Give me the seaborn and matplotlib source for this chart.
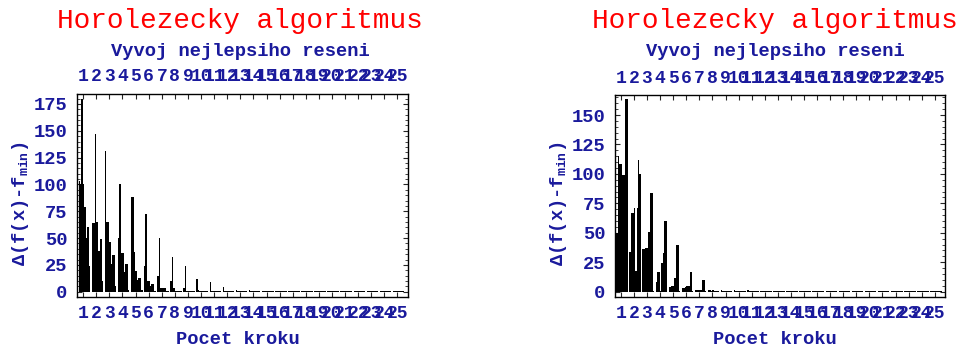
import numpy as np
import pandas as pd
import matplotlib
matplotlib.use("Agg")
import matplotlib.pyplot as plt
import seaborn as sns
from matplotlib.ticker import MultipleLocator

# ---------------- data ----------------
title_text = "Horolezecky algoritmus"
subtitle_text = "Vyvoj nejlepsiho reseni"
x_label = "Pocet kroku"
y_label = "Δ(f(x)-$\\mathrm{f}_{\\mathrm{min}}$)"

steps = list(range(1, 26))
step_labels = [str(s) for s in steps]
sub_per_step = 8

# best-solution differences, 8 evaluations per step
left_delta = [
    103, 100, 180, 100, 79, 50, 60, 24,      # 1
    64, 64, 147, 65, 38, 38, 49, 10,         # 2
    131, 65, 65, 46, 26, 34, 34, 5,          # 3
    50, 100, 36, 36, 18, 26, 26, 2,          # 4
    88, 88, 37, 19, 11, 13, 13, 2,           # 5
    24, 72, 10, 10, 5, 7, 7, 1,              # 6
    15, 50, 3, 3, 3, 3, 1, 1,                # 7
    10, 32, 3, 1, 1, 1, 1, 1,                # 8
    3, 24, 1, 1, 1, 1, 1, 1,                 # 9
    12, 2, 1, 1, 1, 1, 1, 1,                 # 10
    9, 1, 1, 1, 1, 1, 1, 1,                  # 11
    4, 1, 1, 1, 1, 1, 1, 1,                  # 12
    2, 1, 1, 1, 1, 1, 1, 1,                  # 13
    1.5, 1, 1, 1, 1, 1, 1, 1,                # 14
    1, 1, 1, 1, 1, 1, 1, 1,                  # 15
    1, 1, 1, 1, 1, 1, 1, 1,                  # 16
    1, 1, 1, 1, 1, 1, 1, 1,                  # 17
    1, 1, 1, 1, 1, 1, 1, 1,                  # 18
    1, 1, 1, 1, 1, 1, 1, 1,                  # 19
    1, 1, 1, 1, 1, 1, 1, 1,                  # 20
    1, 1, 1, 1, 1, 1, 1, 1,                  # 21
    1, 1, 1, 1, 1, 1, 1, 1,                  # 22
    1, 1, 1, 1, 1, 1, 1, 1,                  # 23
    1, 1, 1, 1, 1, 1, 1, 1,                  # 24
    1, 1, 1, 1, 1, 1, 1, 1,                  # 25
]

right_delta = [
    50, 115, 108, 108, 99, 99, 164, 164,     # 1
    34, 67, 67, 71, 18, 71, 112, 100,        # 2
    36, 36, 37, 37, 51, 84, 84, 1,           # 3
    8, 17, 17, 1, 24, 33, 60, 60,            # 4
    4, 4, 5, 5, 12, 40, 40, 1,               # 5
    3, 3, 4, 5, 5, 5, 17, 1,                 # 6
    1.5, 1.5, 1.5, 1.5, 1.5, 10, 10, 1,      # 7
    1.5, 1.5, 1, 1.5, 1, 1, 1, 1,            # 8
    1.5, 1, 1, 1, 1, 1, 1, 1,                # 9
    1.5, 1, 1, 1, 1, 1, 1, 1,                # 10
    1.5, 1, 1, 1, 1, 1, 1, 1,                # 11
    1, 1, 1, 1, 1, 1, 1, 1,                  # 12
    1, 1, 1, 1, 1, 1, 1, 1,                  # 13
    1, 1, 1, 1, 1, 1, 1, 1,                  # 14
    1, 1, 1, 1, 1, 1, 1, 1,                  # 15
    1, 1, 1, 1, 1, 1, 1, 1,                  # 16
    1, 1, 1, 1, 1, 1, 1, 1,                  # 17
    1, 1, 1, 1, 1, 1, 1, 1,                  # 18
    1, 1, 1, 1, 1, 1, 1, 1,                  # 19
    1, 1, 1, 1, 1, 1, 1, 1,                  # 20
    1, 1, 1, 1, 1, 1, 1, 1,                  # 21
    1, 1, 1, 1, 1, 1, 1, 1,                  # 22
    1, 1, 1, 1, 1, 1, 1, 1,                  # 23
    1, 1, 1, 1, 1, 1, 1, 1,                  # 24
    1, 1, 1, 1, 1, 1, 1, 1,                  # 25
]

# ---------------- style ----------------
sns.set_style("ticks")
MONO = ["Liberation Mono", "DejaVu Sans Mono"]
plt.rcParams["font.family"] = MONO
plt.rcParams["mathtext.fontset"] = "custom"
plt.rcParams["mathtext.rm"] = "Liberation Mono:bold"
plt.rcParams["mathtext.it"] = "Liberation Mono:bold"
plt.rcParams["mathtext.bf"] = "Liberation Mono:bold"

RED = "#ff0000"
BLUE = "#1a1a9c"

W, H = 963, 347
fig = plt.figure(figsize=(W / 100, H / 100), dpi=100)


def px_axes(x0, x1, y_top, y_bot):
    return fig.add_axes([x0 / W, 1 - y_bot / H, (x1 - x0) / W, (y_bot - y_top) / H])


def draw_panel(ax, values, ylim, ytop_tick, title_cx):
    offsets = [-0.35 + (j + 0.5) * 0.11 for j in range(sub_per_step)]
    pos = [round(s + o, 4) for s in steps for o in offsets]
    df = pd.DataFrame({"krok": pos, "delta": values})
    sns.barplot(data=df, x="krok", y="delta", native_scale=True, width=1.05,
                color="black", saturation=1, linewidth=0, errorbar=None,
                antialiased=False, ax=ax)
    ax.set_xlim(0.55, 25.78)
    ax.set_ylim(*ylim)
    ax.set_xticks(steps)
    ax.set_xticklabels(step_labels)
    ax.set_yticks(list(range(0, ytop_tick + 1, 25)))
    ax.yaxis.set_minor_locator(MultipleLocator(5))
    ax.tick_params(axis="x", which="both", direction="in", top=True, bottom=True,
                   labeltop=True, labelbottom=True, length=3.5, width=0.8,
                   pad=6, labelsize=13, labelcolor=BLUE)
    ax.tick_params(axis="y", which="major", direction="in", left=True, right=True,
                   length=3.5, width=0.8, pad=7, labelsize=13.5, labelcolor=BLUE)
    ax.tick_params(axis="y", which="minor", direction="in", left=True, right=True,
                   length=2, width=0.6)
    for lab in ax.get_xticklabels() + ax.get_yticklabels():
        lab.set_fontweight("bold")
    for sp in ax.spines.values():
        sp.set_visible(True)
        sp.set_color("black")
        sp.set_linewidth(1.0)
    ax.set_xlabel("")
    ax.set_ylabel(y_label, color=BLUE, fontsize=13.5, fontweight="bold")
    ax.yaxis.set_label_coords(-0.14, 0.46)
    ax.grid(False)

    fig.text(title_cx / W, 1 - 28 / H, title_text, color=RED, fontsize=20,
             ha="center", va="baseline")
    fig.text(title_cx / W, 1 - 56 / H, subtitle_text, color=BLUE, fontsize=13.5,
             fontweight="bold", ha="center", va="baseline")
    ax_cx = (ax.get_position().x0 + ax.get_position().x1) / 2
    fig.text(ax_cx - 5 / W, 1 - 344 / H, x_label, color=BLUE, fontsize=13.5,
             fontweight="bold", ha="center", va="baseline")


ax1 = px_axes(77.3, 407.7, 93.7, 296.7)
draw_panel(ax1, left_delta, (-4.66, 184.6), 175, 240)

ax2 = px_axes(615, 945, 95, 296.7)
draw_panel(ax2, right_delta, (-4.24, 167), 150, 775)

fig.savefig("out.png", dpi=100)
